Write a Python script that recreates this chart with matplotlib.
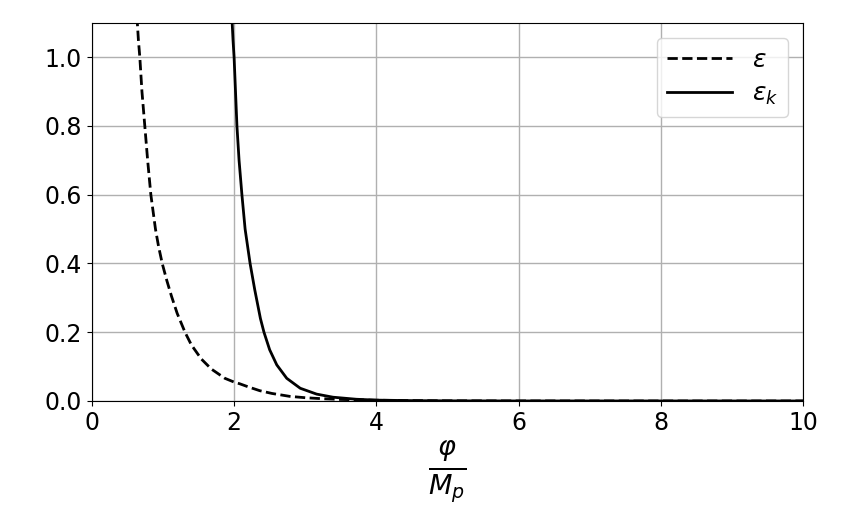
import matplotlib
matplotlib.use("Agg")
import matplotlib.pyplot as plt

# Values
eps_x = [0.63, 0.64, 0.655, 0.675, 0.705, 0.745, 0.785, 0.83, 0.895, 0.938, 0.99, 1.055, 1.12,
         1.20, 1.31, 1.40, 1.54, 1.68, 1.87, 2.0, 2.08, 2.20, 2.36, 2.53, 2.78, 3.0, 3.25,
         3.5, 4.0, 4.5, 5.0, 6.0, 8.0, 10.0]
eps_y = [1.12, 1.10, 1.05, 1.0, 0.90, 0.80, 0.70, 0.60, 0.50, 0.45, 0.40, 0.35, 0.305,
         0.255, 0.20, 0.163, 0.122, 0.093, 0.066, 0.055, 0.050, 0.041, 0.030, 0.022, 0.0135, 0.0095, 0.0065,
         0.0045, 0.0022, 0.001, 0.0005, 0.0001, 0.0, 0.0]

epsk_x = [1.97, 1.973, 1.985, 2.0, 2.02, 2.04, 2.07, 2.11, 2.155, 2.225, 2.29, 2.37, 2.42, 2.50,
          2.60, 2.74, 2.93, 3.16, 3.39, 3.72, 4.0, 4.5, 5.0, 6.0, 10.0]
epsk_y = [1.12, 1.10, 1.05, 1.0, 0.90, 0.80, 0.70, 0.60, 0.50, 0.40, 0.324, 0.240, 0.20, 0.149,
          0.105, 0.066, 0.037, 0.020, 0.011, 0.005, 0.0025, 0.001, 0.0004, 0.0001, 0.0]

x_ticks = [0, 2, 4, 6, 8, 10]
y_ticks = [0.0, 0.2, 0.4, 0.6, 0.8, 1.0]

fig = plt.figure(figsize=(8.5, 5.23), dpi=100)
ax = fig.add_axes([0.108, 0.2333, 0.837, 0.723])

ax.plot(eps_x, eps_y, color="black", linestyle="--", linewidth=2, label=r"$\varepsilon$")
ax.plot(epsk_x, epsk_y, color="black", linestyle="-", linewidth=2, label=r"$\varepsilon_k$")

ax.set_xlim(0, 10)
ax.set_ylim(0, 1.1)
ax.set_xticks(x_ticks)
ax.set_yticks(y_ticks)
ax.set_yticklabels([f"{v:.1f}" for v in y_ticks])
ax.tick_params(labelsize=17)
ax.grid(True, color="#b0b0b0", linewidth=1.0)
ax.set_xlabel(r"$\frac{\varphi}{M_p}$", fontsize=28, labelpad=3)
ax.legend(loc="upper right", fontsize=18, handlelength=2.6, labelspacing=0.4,
          borderaxespad=0.6)

fig.savefig("out.png", dpi=100)
